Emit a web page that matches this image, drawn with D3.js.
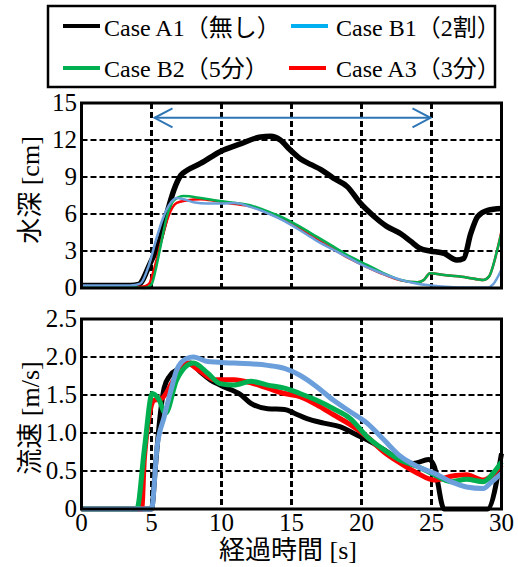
<!DOCTYPE html>
<html>
<head>
<meta charset="utf-8">
<script src="https://cdn.jsdelivr.net/npm/d3@7"></script>
<style>
  body { margin: 0; background: #fff; }
  text { fill: #000; }
</style>
</head>
<body>
<div id="chart"></div>
<script>
// series names / colours
const caseNames   = ["Case A1（無し）", "Case B1（2割）", "Case B2（5分）", "Case A3（3分）"];
const lineColors  = ["#000000", "#6a9fdc", "#00b050", "#ff0000"];
const legendColors = ["#000000", "#00b0f0", "#00b050", "#ff0000"];

const timeTicks  = [0, 5, 10, 15, 20, 25, 30];
const depthTicks = [0, 3, 6, 9, 12, 15];
const velTicks   = [0, 0.5, 1.0, 1.5, 2.0, 2.5];
const velTickLabels = ["0", "0.5", "1.0", "1.5", "2.0", "2.5"];

// water depth [cm] : [time s, value]
const depthA1 = [[0,0.2],[3.5,0.2],[4.1,0.3],[4.9,2.0],[5.6,3.9],[6.1,6.05],[6.6,7.95],[7.1,9.15],[7.55,9.55],[8.5,10.1],[9.9,11.05],[11.4,11.7],[12.8,12.25],[13.5,12.3],[14.2,12.0],[14.9,11.2],[15.6,10.5],[16.4,10.0],[17.1,9.6],[18,8.9],[19,8.2],[19.9,6.9],[20.9,5.8],[21.8,5.0],[22.8,4.4],[23.5,3.8],[24.2,3.2],[24.9,3.0],[25.9,2.8],[26.8,2.27],[27.3,2.4],[27.8,4.4],[28.3,5.8],[29,6.3],[30,6.45]];
const depthB1 = [[0,0.2],[3.5,0.2],[4.2,0.35],[4.8,1.8],[5.3,3.8],[5.8,5.6],[6.3,6.8],[6.8,7.3],[7.3,7.2],[8,6.95],[9,6.85],[10,6.85],[11,6.9],[12,6.6],[13,6.2],[14,5.7],[15,5.1],[16,4.4],[17,3.7],[18,3.1],[19,2.5],[20,1.9],[21,1.4],[22,0.95],[23,0.6],[24,0.35],[25,0.2],[26,0.1],[27,0.05],[28,0.05],[29,0.05],[29.4,0.3],[30,1.5]];
const depthB2 = [[0,0.1],[3.5,0.1],[4.5,0],[5.0,0.3],[5.3,1.5],[5.65,3.4],[6.1,5.8],[6.6,7.1],[7.3,7.45],[8.5,7.3],[9.6,7.1],[11,6.9],[12.1,6.7],[13.3,6.2],[14.5,5.65],[15.6,4.97],[16.8,4.16],[18,3.35],[19.2,2.54],[20.4,1.87],[21.6,1.19],[22.8,0.65],[24,0.46],[24.45,0.65],[24.9,1.2],[25.9,1.05],[27.5,0.86],[28.7,0.65],[29.1,0.92],[29.7,3.1],[30,4.5]];
const depthA3 = [[0,0.1],[3.5,0.1],[4.3,0.1],[4.8,0.3],[5.2,1.6],[5.7,3.8],[6.2,5.8],[6.8,6.9],[7.5,7.1],[8.5,7.2],[9.6,7.05],[11,6.8],[12.1,6.6],[13.3,6.1],[14.5,5.5],[15.6,4.8],[16.8,3.95],[18,3.15],[19.2,2.35],[20.4,1.7],[21.6,1.1],[22.8,0.62],[24,0.46],[24.45,0.65],[24.9,1.2],[25.9,1.05],[27.5,0.86],[28.7,0.65],[29.1,0.92],[29.7,3.1],[30,4.6]];

// velocity [m/s]
const velA1 = [[0,0],[5,0],[5.3,0.6],[5.6,1.2],[5.9,1.59],[6.3,1.75],[7,1.85],[7.8,1.92],[8.5,1.8],[9.2,1.7],[9.9,1.63],[11.4,1.5],[12.1,1.39],[13.3,1.32],[14.5,1.31],[15.2,1.26],[16.1,1.19],[17.3,1.13],[18.5,1.08],[19.5,0.99],[20.4,0.91],[21.6,0.78],[22.8,0.64],[23.7,0.6],[24.8,0.65],[25.2,0.56],[25.9,0],[29,0],[30,0.73]];
const velB1 = [[0,0],[5,0],[5.4,0.82],[5.9,1.21],[6.4,1.57],[6.8,1.83],[7.5,1.98],[8,2.0],[9,1.94],[10.9,1.92],[13.3,1.89],[14.5,1.85],[15.6,1.76],[16.8,1.61],[18,1.43],[19.2,1.28],[20.4,1.13],[21.6,0.91],[22.8,0.69],[24,0.56],[25.2,0.47],[26.4,0.36],[27.5,0.29],[28.7,0.27],[29.2,0.34],[30,0.47]];
const velB2 = [[0,0],[3.95,0],[4.5,0.8],[5.05,1.52],[5.5,1.45],[6,1.26],[6.8,1.7],[8,1.92],[9,1.79],[9.9,1.65],[10.9,1.63],[12.1,1.68],[13.3,1.63],[14.5,1.59],[15.6,1.52],[16.8,1.43],[18,1.32],[19.2,1.19],[20.4,0.95],[21.6,0.78],[22.8,0.64],[24,0.56],[25.2,0.45],[26.4,0.36],[27.5,0.39],[28.7,0.36],[29.4,0.47],[30,0.62]];
const velA3 = [[0,0],[4.3,0],[4.5,0.69],[5.2,1.43],[5.7,1.45],[6.6,1.7],[7.5,1.92],[8.5,1.81],[9.5,1.7],[10.9,1.7],[12.1,1.66],[13.3,1.59],[14.5,1.52],[15.6,1.48],[16.8,1.37],[18,1.24],[19.2,1.11],[20.4,0.95],[21.6,0.75],[22.8,0.6],[24,0.47],[25.2,0.38],[26.4,0.43],[27.5,0.45],[28.7,0.38],[30,0.58]];

// arrow span (s) and height (cm)
const arrowSpan = [5, 25];
const arrowDepth = 13.8;

const serif = "'Liberation Serif', 'Noto Sans CJK JP', serif";

const svg = d3.select("#chart").append("svg")
    .attr("width", 518)
    .attr("height", 567);

const x = d3.scaleLinear().domain([0, 30]).range([81.5, 501.5]);
const yTop = d3.scaleLinear().domain([0, 15]).range([288, 103]);
const yBot = d3.scaleLinear().domain([0, 2.5]).range([509, 319]);

function panel(y, ticks, labels, hGrid) {
    const g = svg.append("g");
    // horizontal grid
    g.selectAll(".hg").data(hGrid).enter().append("line")
        .attr("x1", x(0)).attr("x2", x(30))
        .attr("y1", d => y(d)).attr("y2", d => y(d))
        .attr("stroke", "#000").attr("stroke-width", 2)
        .attr("stroke-dasharray", "6,3");
    // vertical grid
    g.selectAll(".vg").data([5, 10, 15, 20, 25]).enter().append("line")
        .attr("x1", d => x(d)).attr("x2", d => x(d))
        .attr("y1", y.range()[1]).attr("y2", y.range()[0])
        .attr("stroke", "#000").attr("stroke-width", 3)
        .attr("stroke-dasharray", "6,3");
    // y tick labels
    g.selectAll(".yt").data(ticks).enter().append("text")
        .attr("x", 77).attr("y", d => y(d) + 8)
        .attr("text-anchor", "end")
        .attr("font-family", serif)
        .attr("font-size", 25)
        .text((d, i) => labels[i]);
    return g;
}

const gTop = panel(yTop, depthTicks, depthTicks.map(String), [3, 6, 9, 12]);
const gBot = panel(yBot, velTicks, velTickLabels, [0.5, 1.0, 1.5, 2.0]);

// lines
const lineTop = d3.line().x(d => x(d[0])).y(d => yTop(d[1])).curve(d3.curveMonotoneX);
const lineBot = d3.line().x(d => x(d[0])).y(d => yBot(d[1])).curve(d3.curveMonotoneX);

const depthSeries = [depthA1, depthA3, depthB2, depthB1];
const drawColors = [lineColors[0], lineColors[3], lineColors[2], lineColors[1]];
const depthWidths = [5.5, 2.5, 2.5, 2.5];
depthSeries.forEach((s, i) => {
    gTop.append("path").datum(s)
        .attr("d", lineTop)
        .attr("fill", "none")
        .attr("stroke", drawColors[i])
        .attr("stroke-width", depthWidths[i])
        .attr("stroke-linejoin", "round");
});

const velSeries = [velA1, velA3, velB2, velB1];
velSeries.forEach((s, i) => {
    gBot.append("path").datum(s)
        .attr("d", lineBot)
        .attr("fill", "none")
        .attr("stroke", drawColors[i])
        .attr("stroke-width", 5)
        .attr("stroke-linejoin", "round");
});

// frames
[yTop, yBot].forEach(y => {
    svg.append("rect")
        .attr("x", x(0)).attr("y", y.range()[1])
        .attr("width", x(30) - x(0)).attr("height", y.range()[0] - y.range()[1])
        .attr("fill", "none").attr("stroke", "#000").attr("stroke-width", 3);
});

// arrow
const ay = yTop(arrowDepth);
const ax1 = x(arrowSpan[0]) + 3, ax2 = x(arrowSpan[1]) - 1;
const arrowColor = "#2e75b6";
svg.append("line").attr("x1", ax1).attr("x2", ax2).attr("y1", ay).attr("y2", ay)
    .attr("stroke", arrowColor).attr("stroke-width", 2);
svg.append("path")
    .attr("d", `M${ax1 + 18},${ay - 9.5}L${ax1},${ay}L${ax1 + 18},${ay + 9.5}`)
    .attr("fill", "none").attr("stroke", arrowColor).attr("stroke-width", 2);
svg.append("path")
    .attr("d", `M${ax2 - 18},${ay - 9.5}L${ax2},${ay}L${ax2 - 18},${ay + 9.5}`)
    .attr("fill", "none").attr("stroke", arrowColor).attr("stroke-width", 2);

// x tick labels
svg.selectAll(".xt").data(timeTicks).enter().append("text")
    .attr("x", d => x(d)).attr("y", 531)
    .attr("text-anchor", "middle")
    .attr("font-family", serif)
    .attr("font-size", 25)
    .text(d => d);

// axis titles
svg.append("text")
    .attr("x", 288).attr("y", 559)
    .attr("text-anchor", "middle").attr("font-size", 26)
    .attr("font-family", serif)
    .text("経過時間 [s]");
svg.append("text")
    .attr("transform", "translate(39,190) rotate(-90)")
    .attr("text-anchor", "middle").attr("font-size", 26)
    .attr("font-family", serif)
    .text("水深 [cm]");
svg.append("text")
    .attr("transform", "translate(39,418) rotate(-90)")
    .attr("text-anchor", "middle").attr("font-size", 26)
    .attr("font-family", serif)
    .text("流速 [m/s]");

// legend
svg.append("rect")
    .attr("x", 48).attr("y", 6).attr("width", 447).attr("height", 81)
    .attr("fill", "#fff").attr("stroke", "#000").attr("stroke-width", 2.5);
const legPos = [[63, 26, 104, 36], [291, 26, 336, 36], [63, 68, 104, 77], [289, 68, 336, 77]];
caseNames.forEach((name, i) => {
    const p = legPos[i];
    svg.append("line")
        .attr("x1", p[0]).attr("x2", p[0] + 37)
        .attr("y1", p[1]).attr("y2", p[1])
        .attr("stroke", legendColors[i]).attr("stroke-width", 4);
    svg.append("text")
        .attr("x", p[2]).attr("y", p[3])
        .attr("font-family", serif)
        .attr("font-size", 24)
        .text(name);
});
</script>
</body>
</html>
